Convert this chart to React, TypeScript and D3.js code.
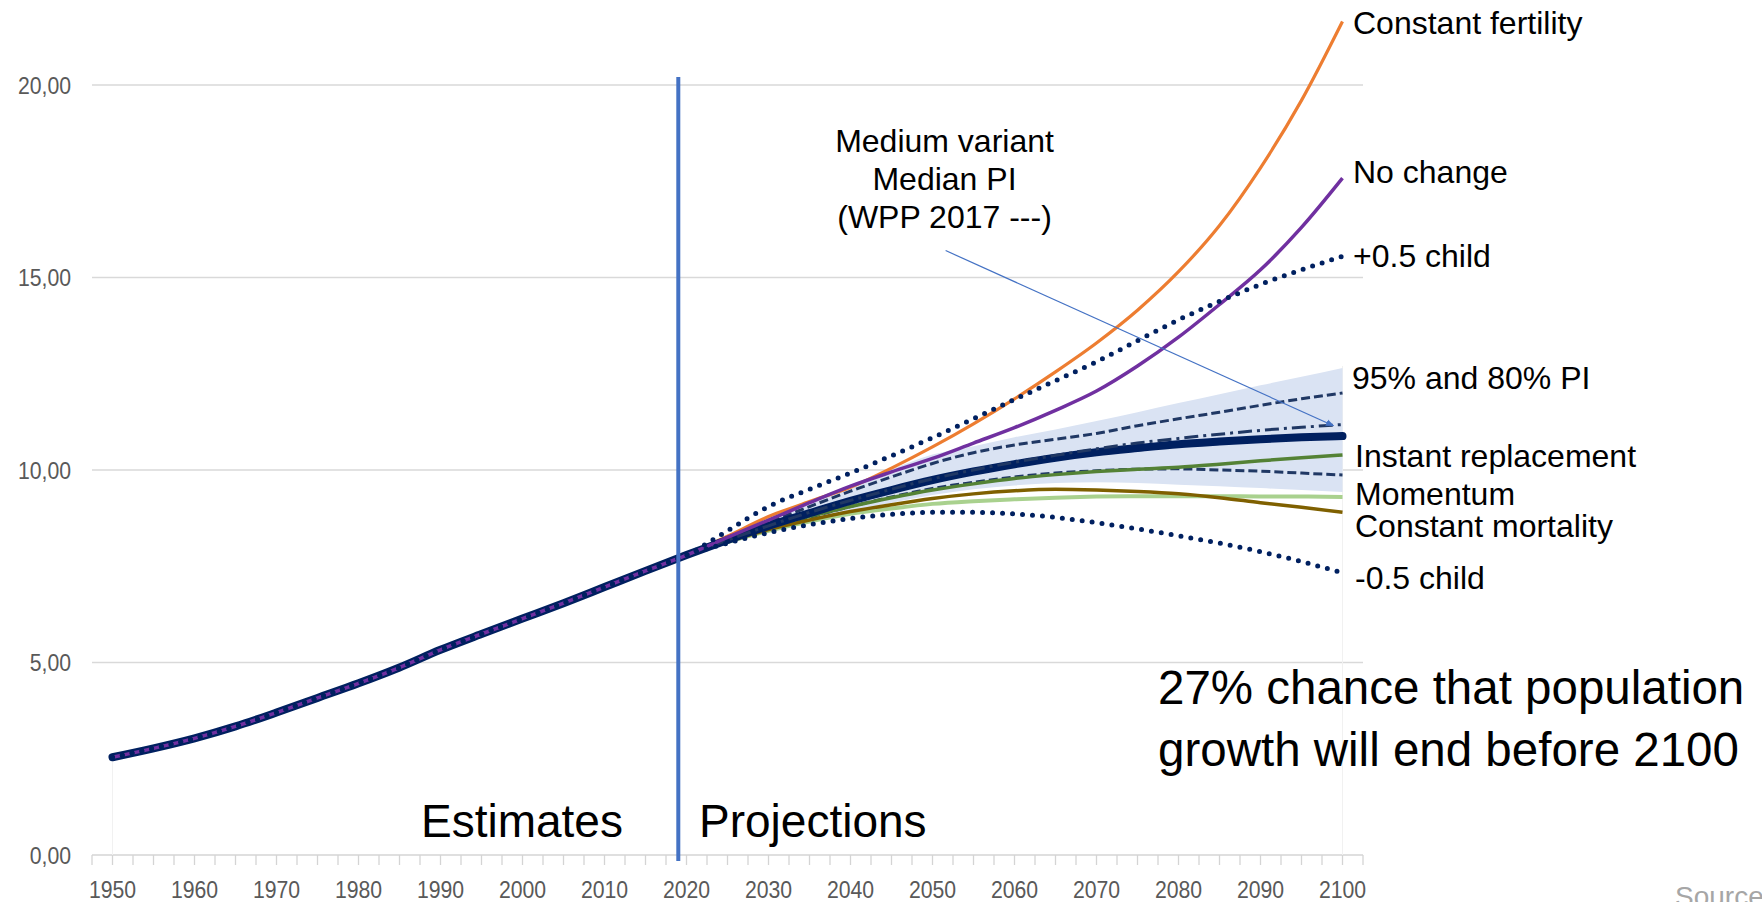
import React from "react";
import * as d3 from "d3";

// World population, billions
const estimateYears = [1950, 1955, 1960, 1965, 1970, 1975, 1980, 1985, 1990, 1995, 2000, 2005, 2010, 2015];
const estimates = [2.54, 2.77, 3.03, 3.34, 3.7, 4.08, 4.46, 4.87, 5.33, 5.74, 6.14, 6.54, 6.96, 7.38];

const projectionYears = [2020, 2025, 2030, 2035, 2040, 2045, 2050, 2055, 2060, 2065, 2070, 2075, 2080, 2085, 2090, 2095, 2100];
const constantFertility = [7.79, 8.28, 8.79, 9.18, 9.55, 10.05, 10.6, 11.2, 11.85, 12.55, 13.3, 14.15, 15.15, 16.35, 17.85, 19.6, 21.65];
const noChange = [7.79, 8.25, 8.7, 9.15, 9.58, 9.95, 10.3, 10.7, 11.1, 11.55, 12.05, 12.7, 13.45, 14.3, 15.2, 16.3, 17.58];
const plusHalfChild = [7.79, 8.42, 9.05, 9.5, 9.92, 10.37, 10.84, 11.33, 11.83, 12.32, 12.81, 13.36, 13.9, 14.38, 14.82, 15.2, 15.55];
const mediumVariant = [7.79, 8.18, 8.55, 8.88, 9.2, 9.48, 9.74, 9.96, 10.15, 10.32, 10.46, 10.57, 10.67, 10.74, 10.8, 10.85, 10.88];
const medianWpp2017 = [7.79, 8.18, 8.55, 8.9, 9.21, 9.5, 9.77, 10.0, 10.2, 10.38, 10.55, 10.7, 10.82, 10.93, 11.03, 11.11, 11.18];
const pi80Upper = [7.79, 8.22, 8.64, 9.05, 9.45, 9.82, 10.17, 10.45, 10.65, 10.8, 10.95, 11.15, 11.33, 11.5, 11.68, 11.85, 12.0];
const pi80Lower = [7.79, 8.12, 8.45, 8.77, 9.05, 9.3, 9.52, 9.68, 9.82, 9.92, 9.98, 10.02, 10.03, 10.0, 9.97, 9.92, 9.87];
const pi95Upper = [7.79, 8.25, 8.72, 9.18, 9.62, 10.02, 10.4, 10.62, 10.85, 11.05, 11.27, 11.5, 11.74, 11.97, 12.2, 12.42, 12.65];
const pi95Lower = [7.79, 8.08, 8.38, 8.66, 8.92, 9.15, 9.35, 9.5, 9.6, 9.66, 9.68, 9.66, 9.62, 9.58, 9.53, 9.48, 9.43];
const instantReplacement = [7.79, 8.2, 8.53, 8.8, 9.05, 9.28, 9.48, 9.64, 9.78, 9.88, 9.96, 10.02, 10.07, 10.15, 10.24, 10.32, 10.39];
const momentum = [7.79, 8.13, 8.42, 8.66, 8.86, 9.0, 9.12, 9.19, 9.24, 9.28, 9.31, 9.32, 9.32, 9.32, 9.31, 9.31, 9.3];
const constantMortality = [7.79, 8.14, 8.45, 8.7, 8.92, 9.1, 9.26, 9.38, 9.46, 9.5, 9.48, 9.44, 9.38, 9.28, 9.15, 9.03, 8.9];
const minusHalfChild = [7.79, 8.1, 8.37, 8.58, 8.74, 8.85, 8.9, 8.9, 8.86, 8.77, 8.63, 8.47, 8.29, 8.1, 7.88, 7.62, 7.33];

const yTicks = [0, 5, 10, 15, 20];
const yearLabels = [1950, 1960, 1970, 1980, 1990, 2000, 2010, 2020, 2030, 2040, 2050, 2060, 2070, 2080, 2090, 2100];
const dividerYear = 2019;
const pointerFrom = { year: 2051.6, value: 15.7 };
const pointerTo = { year: 2098.9, value: 11.15 };

const W = 1762;
const H = 902;
const SANS = "'Liberation Sans', Arial, Helvetica, sans-serif";

type Pt = { year: number; value: number };

const zip = (ys: number[], vs: number[]): Pt[] => ys.map((year, i) => ({ year, value: vs[i] }));
const withHistory = (vs: number[]): Pt[] => [...zip(estimateYears, estimates), ...zip(projectionYears, vs)];

// condensed axis digits: each glyph squeezed to a narrow advance
const DIGIT_W = 11.8;
const condensedWidth = (s: string) => s.split("").reduce((w, ch) => w + (ch === "," ? DIGIT_W * 0.5 : DIGIT_W), 0);

export default function App() {
  const x = d3.scaleLinear().domain([1947.5, 2102.5]).range([92, 1363]);
  const y = d3.scaleLinear().domain([0, 20]).range([855, 85]);

  const line = d3
    .line<Pt>()
    .x((d) => x(d.year))
    .y((d) => y(d.value))
    .curve(d3.curveMonotoneX);

  const band = d3
    .area<number>()
    .x((_, i) => x(projectionYears[i]))
    .y0((_, i) => y(pi95Lower[i]))
    .y1((d) => y(d))
    .curve(d3.curveMonotoneX);

  const minorTicks = d3.range(1947.5, 2102.6, 2.5);
  const fmtY = (t: number) => d3.format(".2f")(t).replace(".", ",");

  const rightLabels = [
    { text: "Constant fertility", x: 1353, y: 34 },
    { text: "No change", x: 1353, y: 183 },
    { text: "+0.5 child", x: 1353, y: 267 },
    { text: "95% and 80% PI", x: 1352, y: 389 },
    { text: "Instant replacement", x: 1355, y: 467 },
    { text: "Momentum", x: 1355, y: 505 },
    { text: "Constant mortality", x: 1355, y: 537 },
    { text: "-0.5 child", x: 1355, y: 589 },
  ];

  return (
    <div style={{ position: "absolute", left: 0, top: 0, width: W, height: H, overflow: "hidden", background: "#fff" }}>
      <svg width={W} height={H} viewBox={`0 0 ${W} ${H}`} style={{ display: "block" }}>
        <defs>
          <marker id="arrowHead" viewBox="0 0 10 10" refX="9" refY="5" markerWidth="7" markerHeight="7" orient="auto">
            <path d="M0,1 L10,5 L0,9 z" fill="#4472C4" />
          </marker>
        </defs>

        {/* horizontal gridlines */}
        {yTicks.map((t) => (
          <line key={`g${t}`} x1={x(1947.5)} x2={x(2102.5)} y1={y(t)} y2={y(t)} stroke={t === 0 ? "#d4d4d4" : "#d9d9d9"} strokeWidth={1.3} />
        ))}

        {/* faint plot-edge verticals */}
        <line x1={x(1950)} x2={x(1950)} y1={y(2.5)} y2={y(0)} stroke="#f1f1f1" strokeWidth={1} />
        <line x1={x(2100)} x2={x(2100)} y1={y(12.7)} y2={y(0)} stroke="#f1f1f1" strokeWidth={1} />

        {/* x tick marks */}
        {minorTicks.map((t) => (
          <line key={`t${t}`} x1={x(t)} x2={x(t)} y1={y(0)} y2={y(0) + 10} stroke="#d4d4d4" strokeWidth={1.3} />
        ))}

        {/* y labels */}
        {yTicks.map((t) => (
          <text
            key={`yl${t}`}
            x={71 - condensedWidth(fmtY(t))}
            y={y(t)}
            dy="0.36em"
            textLength={condensedWidth(fmtY(t))}
            lengthAdjust="spacingAndGlyphs"
            fontFamily={SANS}
            fontSize={24.5}
            fill="#595959"
          >
            {fmtY(t)}
          </text>
        ))}

        {/* x labels */}
        {yearLabels.map((yr) => (
          <text
            key={`xl${yr}`}
            x={x(yr) - condensedWidth(String(yr)) / 2}
            y={898}
            textLength={condensedWidth(String(yr))}
            lengthAdjust="spacingAndGlyphs"
            fontFamily={SANS}
            fontSize={24.5}
            fill="#595959"
          >
            {yr}
          </text>
        ))}

        {/* 95% prediction interval */}
        <path d={band(pi95Upper) ?? ""} fill="#dae3f3" stroke="none" />

        {/* 80% prediction interval */}
        <path d={line(zip(projectionYears, pi80Upper)) ?? ""} fill="none" stroke="#203864" strokeWidth={3} strokeDasharray="9 4" />
        <path d={line(zip(projectionYears, pi80Lower)) ?? ""} fill="none" stroke="#203864" strokeWidth={3} strokeDasharray="9 4" />

        <path d={line(withHistory(momentum)) ?? ""} fill="none" stroke="#a9d18e" strokeWidth={4} />
        <path d={line(withHistory(constantMortality)) ?? ""} fill="none" stroke="#7f6000" strokeWidth={3.5} />
        <path d={line(withHistory(instantReplacement)) ?? ""} fill="none" stroke="#548235" strokeWidth={3.5} />
        <path d={line(withHistory(constantFertility)) ?? ""} fill="none" stroke="#ed7d31" strokeWidth={3.2} />

        <path d={line(withHistory(mediumVariant)) ?? ""} fill="none" stroke="#002060" strokeWidth={8} strokeLinecap="round" />
        <path d={line(zip(projectionYears, medianWpp2017)) ?? ""} fill="none" stroke="#203864" strokeWidth={3} strokeDasharray="14 5 3 5" />

        <path d={line(withHistory(noChange)) ?? ""} fill="none" stroke="#7030a0" strokeWidth={3.5} />

        <path d={line(withHistory(plusHalfChild)) ?? ""} fill="none" stroke="#002060" strokeWidth={5} strokeDasharray="0 10" strokeLinecap="round" />
        <path d={line(withHistory(minusHalfChild)) ?? ""} fill="none" stroke="#002060" strokeWidth={5} strokeDasharray="0 10" strokeLinecap="round" />

        {/* estimates / projections divider */}
        <line x1={x(dividerYear)} x2={x(dividerYear)} y1={77} y2={y(0) + 6} stroke="#4472c4" strokeWidth={4} />

        {/* pointer to the WPP 2017 median */}
        <line
          x1={x(pointerFrom.year)}
          y1={y(pointerFrom.value)}
          x2={x(pointerTo.year)}
          y2={y(pointerTo.value)}
          stroke="#4472c4"
          strokeWidth={1.2}
          markerEnd="url(#arrowHead)"
        />

        <g fontFamily={SANS} fill="#000">
          <text x={944.5} y={152} textAnchor="middle" fontSize={32}>Medium variant</text>
          <text x={944.5} y={190} textAnchor="middle" fontSize={32}>Median PI</text>
          <text x={944.5} y={228} textAnchor="middle" fontSize={32}>(WPP 2017 ---)</text>

          {rightLabels.map((l) => (
            <text key={l.text} x={l.x} y={l.y} fontSize={32}>{l.text}</text>
          ))}

          <text x={421} y={837} fontSize={46}>Estimates</text>
          <text x={699} y={837} fontSize={46}>Projections</text>

          <text x={1158} y={704} fontSize={47.5}>27% chance that population</text>
          <text x={1158} y={766} fontSize={47.5}>growth will end before 2100</text>
        </g>

        <text x={1675} y={906} fontFamily={SANS} fontSize={28} fill="#a6a6a6">Source</text>
      </svg>
    </div>
  );
}
